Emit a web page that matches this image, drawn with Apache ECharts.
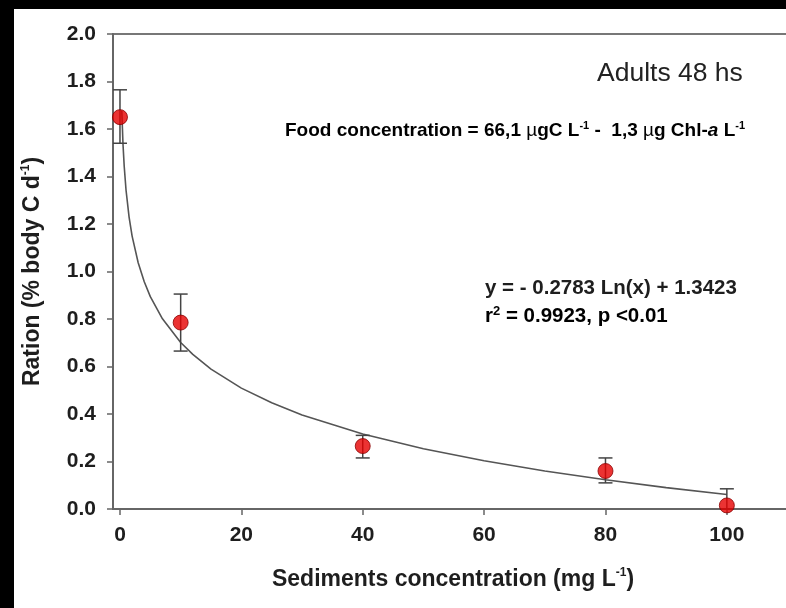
<!DOCTYPE html>
<html><head><meta charset="utf-8">
<script src="https://cdn.jsdelivr.net/npm/echarts@6/dist/echarts.min.js"></script>
<style>html,body{margin:0;padding:0;background:#000}#c{width:786px;height:608px}</style>
</head><body><div id="c"></div>
<script>
const sediment = [0, 10, 40, 80, 100];
const ration = [1.65, 0.785, 0.265, 0.16, 0.015];
const errHigh = [1.765, 0.905, 0.31, 0.215, 0.085];
const errLow = [1.54, 0.665, 0.215, 0.11, 0.0];
// Fitted curve, points
const fitX = [0.3, 0.5, 0.7, 1, 1.5, 2, 3, 4, 5, 7, 10, 12, 15, 20, 25, 30, 40, 50, 60, 70, 80, 90, 100];
const fitY = [1.677, 1.535, 1.442, 1.342, 1.229, 1.149, 1.037, 0.957, 0.894, 0.801, 0.701, 0.651, 0.589, 0.509, 0.447, 0.396, 0.316, 0.254, 0.203, 0.160, 0.123, 0.090, 0.061];
const xTicks = [0, 20, 40, 60, 80, 100];
const yMin = 0, yMax = 2, yStep = 0.2;

const font = 'Liberation Sans, Arial, Helvetica, sans-serif';
const chart = echarts.init(document.getElementById('c'), null, {renderer: 'canvas'});
const axisColor = '#666';
const txt = '#1e1e1e';

chart.setOption({
  backgroundColor: '#000',
  animation: false,
  grid: {left: 113, top: 34, width: 680, height: 475, outerBoundsMode: 'none', containLabel: false, show: true, borderColor: '#777', borderWidth: 2, backgroundColor: 'transparent'},
  xAxis: {
    type: 'value', min: -1.15, max: 110.9,
    axisLine: {show: true, onZero: false, lineStyle: {color: axisColor, width: 2}},
    axisTick: {show: true, customValues: xTicks, length: 6, lineStyle: {color: axisColor, width: 1.5}},
    axisLabel: {customValues: xTicks, fontSize: 21, fontWeight: 'bold', color: txt, fontFamily: font, margin: 16},
    splitLine: {show: false},
    name: '{t|Sediments concentration (mg L}{s|-1}{t|)}',
    nameLocation: 'middle', nameGap: 58,
    nameTextStyle: {
      rich: {
        t: {fontSize: 23, fontWeight: 'bold', color: txt, fontFamily: font, lineHeight: 25},
        s: {fontSize: 12, fontWeight: 'bold', color: txt, fontFamily: font, lineHeight: 12, verticalAlign: 'top'}
      }
    }
  },
  yAxis: {
    type: 'value', min: yMin, max: yMax, interval: yStep,
    axisLine: {show: true, onZero: false, lineStyle: {color: axisColor, width: 2}},
    axisTick: {show: true, length: 6, lineStyle: {color: axisColor, width: 1.5}},
    axisLabel: {formatter: v => v.toFixed(1), fontSize: 21, fontWeight: 'bold', color: txt, fontFamily: font, margin: 17},
    splitLine: {show: false},
    name: '{t|Ration (% body C d}{s|-1}{t|)}',
    nameLocation: 'middle', nameGap: 68,
    nameTextStyle: {
      rich: {
        t: {fontSize: 23, fontWeight: 'bold', color: txt, fontFamily: font, lineHeight: 25},
        s: {fontSize: 12, fontWeight: 'bold', color: txt, fontFamily: font, lineHeight: 12, verticalAlign: 'top'}
      }
    }
  },
  graphic: [
    {type: 'rect', z: -100, silent: true, shape: {x: 14, y: 9, width: 772, height: 599}, style: {fill: '#fff'}},
    {type: 'text', x: 597, y: 74, style: {text: 'Adults 48 hs', font: 'normal 26.5px ' + font, fill: '#222', verticalAlign: 'middle', align: 'left'}},
    {type: 'text', x: 285, y: 131, style: {
      text: '{b|Food concentration = 66,1 }{m|µ}{b|gC L}{s|-1}{b| -  1,3 }{m|µ}{b|g Chl-}{i|a}{b| L}{s|-1}',
      verticalAlign: 'middle', align: 'left',
      rich: {
        b: {fontSize: 19, fontWeight: 'bold', color: txt, fontFamily: font, lineHeight: 22},
        m: {fontSize: 19, fontWeight: 'normal', color: txt, fontFamily: font, lineHeight: 22},
        i: {fontSize: 19, fontWeight: 'bold', fontStyle: 'italic', color: txt, fontFamily: font, lineHeight: 22},
        s: {fontSize: 11, fontWeight: 'bold', color: txt, fontFamily: font, lineHeight: 11, verticalAlign: 'top'}
      }
    }},
    {type: 'text', x: 485, y: 288, style: {text: 'y = - 0.2783 Ln(x) + 1.3423', font: 'bold 20.5px ' + font, fill: txt, verticalAlign: 'middle', align: 'left'}},
    {type: 'text', x: 485, y: 316, style: {
      text: '{b|r}{s|2}{b| = 0.9923, p <0.01}',
      verticalAlign: 'middle', align: 'left',
      rich: {
        b: {fontSize: 20.5, fontWeight: 'bold', color: txt, fontFamily: font, lineHeight: 22},
        s: {fontSize: 13, fontWeight: 'bold', color: txt, fontFamily: font, lineHeight: 13, verticalAlign: 'top'}
      }
    }}
  ],
  series: [
    {
      type: 'line', data: fitX.map((x, i) => [x, fitY[i]]), showSymbol: false, smooth: false,
      lineStyle: {color: '#555', width: 1.6}, z: 2, silent: true
    },
    {
      type: 'custom', z: 3, silent: true,
      data: sediment.map((x, i) => [x, errLow[i], errHigh[i]]),
      renderItem: function (params, api) {
        const x = api.value(0);
        const pHi = api.coord([x, api.value(2)]);
        const pLo = api.coord([x, api.value(1)]);
        const w = 7;
        const st = {stroke: '#444', lineWidth: 1.5};
        return {type: 'group', children: [
          {type: 'line', shape: {x1: pHi[0], y1: pHi[1], x2: pLo[0], y2: pLo[1]}, style: st},
          {type: 'line', shape: {x1: pHi[0] - w, y1: pHi[1], x2: pHi[0] + w, y2: pHi[1]}, style: st},
          {type: 'line', shape: {x1: pLo[0] - w, y1: pLo[1], x2: pLo[0] + w, y2: pLo[1]}, style: st}
        ]};
      }
    },
    {
      type: 'scatter', z: 4, symbol: 'circle', symbolSize: 15,
      data: sediment.map((x, i) => [x, ration[i]]),
      itemStyle: {color: '#e60000', borderColor: '#8a0000', borderWidth: 1}
    }
  ]
});
</script></body></html>
